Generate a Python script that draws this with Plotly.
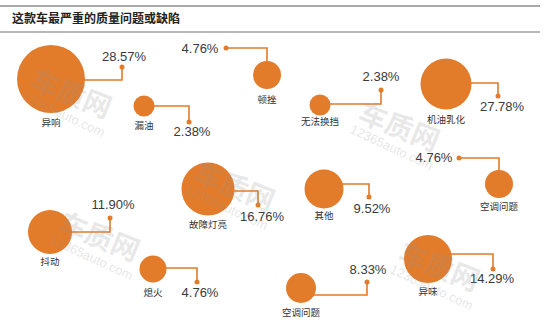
import plotly.graph_objects as go

# ---- data ----
categories = ["异响", "漏油", "顿挫", "无法换挡", "机油乳化", "空调问题",
              "故障灯亮", "其他", "抖动", "熄火", "空调问题", "异味"]
values = [28.57, 2.38, 4.76, 2.38, 27.78, 4.76, 16.76, 9.52, 11.90, 4.76, 8.33, 14.29]
title_text = "这款车最严重的质量问题或缺陷"

# ---- layout (pixel positions of the infographic) ----
bub_x = [51, 144, 267, 320, 446, 499, 208, 324, 50, 153, 301, 428]
bub_y = [79, 106, 75, 105, 84, 184, 189, 189, 232, 269, 288, 259]
bub_r = [34, 10.5, 14, 10.5, 25.5, 14, 26.5, 19.5, 22, 13.5, 15, 24]
lab_y = [124, 127, 101, 123, 121, 208, 226, 217, 263, 294, 314, 293]
# leader: kind 'h' = horizontal out then vertical to dot; 'v' = up then horizontal to dot
lead_kind = ["h", "h", "v", "h", "h", "v", "h", "h", "h", "h", "h", "h"]
lead_y = [80, 106, 75, 104, 83, 184, 191, 184, 232, 268, 295, 254]
dot_x = [122, 189, 226, 381, 498, 459, 258, 369, 110, 197, 367, 493]
dot_y = [67, 122, 48, 90, 96, 158, 205, 197, 218, 282, 282, 269]
pct_x = [124, 192, 200, 381, 502, 434, 262, 372, 113, 200, 368, 492]
pct_y = [58, 133, 50, 78, 108, 159, 218, 210, 206, 294, 271, 280]

ORANGE = "#E27B2A"

fig = go.Figure()

# leader lines
lx, ly = [], []
for i in range(len(values)):
    if lead_kind[i] == "h":
        lx += [bub_x[i], dot_x[i], dot_x[i], None]
        ly += [lead_y[i], lead_y[i], dot_y[i], None]
    else:
        lx += [bub_x[i], bub_x[i], dot_x[i], None]
        ly += [lead_y[i], dot_y[i], dot_y[i], None]
fig.add_trace(go.Scatter(x=lx, y=ly, mode="lines",
                         line=dict(color=ORANGE, width=1.6),
                         hoverinfo="skip", showlegend=False))

# bubbles
fig.add_trace(go.Scatter(
    x=bub_x, y=bub_y, mode="markers",
    marker=dict(size=[2 * r for r in bub_r], sizemode="diameter",
                color=ORANGE, line=dict(width=0), opacity=1),
    text=categories, customdata=values,
    hovertemplate="%{text}: %{customdata}%<extra></extra>",
    showlegend=False))

# end dots
fig.add_trace(go.Scatter(x=dot_x, y=dot_y, mode="markers",
                         marker=dict(size=5, color=ORANGE),
                         hoverinfo="skip", showlegend=False))

# category labels
fig.add_trace(go.Scatter(
    x=bub_x, y=lab_y, mode="text", text=categories,
    textfont=dict(family="Noto Sans CJK SC", size=9.5, color="#333333"),
    hoverinfo="skip", showlegend=False))

# percentage labels
fig.add_trace(go.Scatter(
    x=pct_x, y=pct_y, mode="text", text=[f"{v:.2f}%" for v in values],
    textfont=dict(family="Liberation Sans", size=13, color="#3a3a3a"),
    hoverinfo="skip", showlegend=False))

annotations = [dict(x=10, y=17, xref="x", yref="y", text="<b>" + title_text + "</b>",
                    showarrow=False, xanchor="left", yanchor="middle",
                    font=dict(family="Noto Sans CJK SC", size=12, color="#222222"))]

# faint watermark
wm_pos = [(72, 92), (400, 125), (235, 185), (100, 235), (440, 265)]
for (wx, wy) in wm_pos:
    annotations.append(dict(x=wx, y=wy, xref="x", yref="y", text="<b>车质网</b>",
                            showarrow=False, textangle=22,
                            font=dict(family="Noto Sans CJK SC", size=28,
                                      color="rgba(150,150,150,0.22)")))
    annotations.append(dict(x=wx - 8, y=wy + 22, xref="x", yref="y", text="12365auto.com",
                            showarrow=False, textangle=25,
                            font=dict(family="Liberation Sans", size=13,
                                      color="rgba(150,150,150,0.25)")))

shapes = [
    dict(type="line", xref="x", yref="y", x0=0, x1=540, y0=6, y1=6,
         line=dict(color="#8c8c8c", width=1.5)),
    dict(type="line", xref="x", yref="y", x0=0, x1=540, y0=32, y1=32,
         line=dict(color="#a0a0a0", width=1.5)),
]

fig.update_layout(
    width=550, height=335,
    margin=dict(l=0, r=0, t=0, b=0),
    paper_bgcolor="white", plot_bgcolor="white",
    xaxis=dict(range=[0, 550], visible=False, fixedrange=True),
    yaxis=dict(range=[335, 0], visible=False, fixedrange=True),
    annotations=annotations, shapes=shapes,
    showlegend=False,
)

fig.write_html("out.html")
